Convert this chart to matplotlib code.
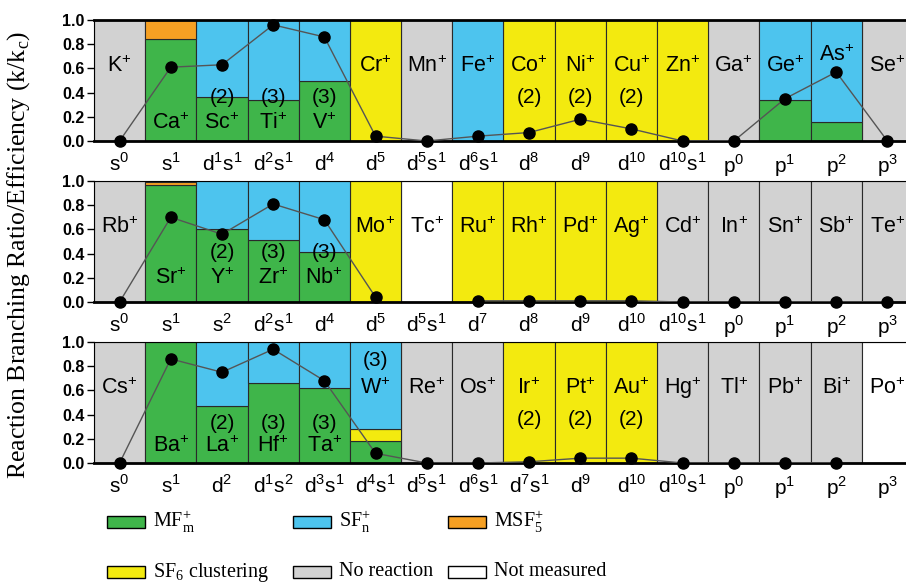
import numpy as np
import matplotlib.pyplot as plt
from matplotlib.patches import Rectangle

plt.rcParams['font.family'] = ['Liberation Sans']
plt.rcParams['mathtext.fontset'] = 'custom'
plt.rcParams['mathtext.rm'] = 'Liberation Sans'
plt.rcParams['mathtext.sf'] = 'Liberation Serif'

# product channel colours
c_mf = '#3fb54a'
c_sf = '#4dc4ee'
c_msf = '#f6a023'
c_clus = '#f3ea0f'
c_none = '#d2d2d2'
c_nm = '#ffffff'

# ---- row 1: K+ .. Se+
ions4 = ['K', 'Ca', 'Sc', 'Ti', 'V', 'Cr', 'Mn', 'Fe', 'Co', 'Ni', 'Cu', 'Zn', 'Ga', 'Ge', 'As', 'Se']
conf4 = ['s$^0$', 's$^1$', 'd$^1$s$^1$', 'd$^2$s$^1$', 'd$^4$', 'd$^5$', 'd$^5$s$^1$', 'd$^6$s$^1$',
         'd$^8$', 'd$^9$', 'd$^{10}$', 'd$^{10}$s$^1$', 'p$^0$', 'p$^1$', 'p$^2$', 'p$^3$']
mf4 = [0, 0.84, 0.36, 0.34, 0.50, 0, 0, 0, 0, 0, 0, 0, 0, 0.34, 0.16, 0]
clus4 = [0, 0, 0, 0, 0, 1.0, 0, 0, 1.0, 1.0, 1.0, 1.0, 0, 0, 0, 0]
sf4 = [0, 0, 0.64, 0.66, 0.50, 0, 0, 1.0, 0, 0, 0, 0, 0, 0.66, 0.84, 0]
msf4 = [0, 0.16, 0, 0, 0, 0, 0, 0, 0, 0, 0, 0, 0, 0, 0, 0]
eff4 = [0.0, 0.61, 0.63, 0.96, 0.86, 0.04, 0.0, 0.04, 0.07, 0.18, 0.10, 0.0, 0.0, 0.35, 0.57, 0.0]
note4 = ['', '', '(2)', '(3)', '(3)', '', '', '', '(2)', '(2)', '(2)', '', '', '', '', '']

# ---- row 2: Rb+ .. Te+
ions5 = ['Rb', 'Sr', 'Y', 'Zr', 'Nb', 'Mo', 'Tc', 'Ru', 'Rh', 'Pd', 'Ag', 'Cd', 'In', 'Sn', 'Sb', 'Te']
conf5 = ['s$^0$', 's$^1$', 's$^2$', 'd$^2$s$^1$', 'd$^4$', 'd$^5$', 'd$^5$s$^1$', 'd$^7$',
         'd$^8$', 'd$^9$', 'd$^{10}$', 'd$^{10}$s$^1$', 'p$^0$', 'p$^1$', 'p$^2$', 'p$^3$']
mf5 = [0, 0.97, 0.60, 0.51, 0.41, 0, 0, 0, 0, 0, 0, 0, 0, 0, 0, 0]
clus5 = [0, 0, 0, 0, 0, 1.0, 0, 1.0, 1.0, 1.0, 1.0, 0, 0, 0, 0, 0]
sf5 = [0, 0, 0.40, 0.49, 0.59, 0, 0, 0, 0, 0, 0, 0, 0, 0, 0, 0]
msf5 = [0, 0.02, 0, 0, 0, 0, 0, 0, 0, 0, 0, 0, 0, 0, 0, 0]
eff5 = [0.0, 0.70, 0.56, 0.81, 0.68, 0.04, None, 0.01, 0.01, 0.01, 0.01, 0.0, 0.0, 0.0, 0.0, 0.0]
note5 = ['', '', '(2)', '(3)', '(3)', '', '', '', '', '', '', '', '', '', '', '']

# ---- row 3: Cs+ .. Po+
ions6 = ['Cs', 'Ba', 'La', 'Hf', 'Ta', 'W', 'Re', 'Os', 'Ir', 'Pt', 'Au', 'Hg', 'Tl', 'Pb', 'Bi', 'Po']
conf6 = ['s$^0$', 's$^1$', 'd$^2$', 'd$^1$s$^2$', 'd$^3$s$^1$', 'd$^4$s$^1$', 'd$^5$s$^1$', 'd$^6$s$^1$',
         'd$^7$s$^1$', 'd$^9$', 'd$^{10}$', 'd$^{10}$s$^1$', 'p$^0$', 'p$^1$', 'p$^2$', 'p$^3$']
mf6 = [0, 1.0, 0.47, 0.66, 0.62, 0.18, 0, 0, 0, 0, 0, 0, 0, 0, 0, 0]
clus6 = [0, 0, 0, 0, 0, 0.10, 0, 0, 1.0, 1.0, 1.0, 0, 0, 0, 0, 0]
sf6 = [0, 0, 0.53, 0.34, 0.38, 0.72, 0, 0, 0, 0, 0, 0, 0, 0, 0, 0]
msf6 = [0] * 16
eff6 = [0.0, 0.86, 0.75, 0.94, 0.68, 0.08, 0.0, 0.0, 0.01, 0.04, 0.04, 0.0, 0.0, 0.0, 0.0, None]
note6 = ['', '', '(2)', '(3)', '(3)', '(3)', '', '', '(2)', '(2)', '(2)', '', '', '', '', '']

rows = [
    (ions4, conf4, mf4, clus4, sf4, msf4, eff4, note4),
    (ions5, conf5, mf5, clus5, sf5, msf5, eff5, note5),
    (ions6, conf6, mf6, clus6, sf6, msf6, eff6, note6),
]

# ions whose name sits low inside the stacked bar
low_names = {'Ca', 'Sc', 'Ti', 'V', 'Sr', 'Y', 'Zr', 'Nb', 'Ba', 'La', 'Hf', 'Ta'}
low_y = [(0.15, 0.36), (0.20, 0.41), (0.14, 0.33)]
name_y = {'As': 0.71}
note_y = {'W': 0.85}

fig = plt.figure(figsize=(9.06, 5.88), dpi=100)
panel_tops = [20, 181, 342]
edge = '#2a2a2a'

for r, (ions, conf, mf, clus, sf, msf, eff, note) in enumerate(rows):
    top = panel_tops[r]
    ax = fig.add_axes([94 / 906, 1 - (top + 121) / 588, 819 / 906, 121 / 588])
    x = np.arange(len(ions))
    mf = np.array(mf, dtype=float)
    clus = np.array(clus, dtype=float)
    sf = np.array(sf, dtype=float)
    msf = np.array(msf, dtype=float)
    measured = np.array([e is not None for e in eff])
    total = mf + clus + sf + msf

    # columns with no products: grey when measured, white when not
    empty = total == 0
    bg = np.where(measured, c_none, c_nm)
    ax.bar(x[empty], 1.0, width=1.0, color=bg[empty], edgecolor=edge, lw=0.8, zorder=1)

    bottom = np.zeros(len(ions))
    for vals, col in [(mf, c_mf), (clus, c_clus), (sf, c_sf), (msf, c_msf)]:
        m = vals > 0
        ax.bar(x[m], vals[m], bottom=bottom[m], width=1.0, color=col,
               edgecolor=edge, lw=0.8, zorder=1)
        bottom += vals

    # efficiency line, broken where the ion was not measured
    ev = np.array([np.nan if e is None else e for e in eff])
    ax.plot(x, ev, color='#555555', lw=1.0, zorder=3)
    ax.plot(x, ev, 'o', color='black', ms=8, zorder=4, clip_on=False)

    lo_name, lo_note = low_y[r]
    for i, ion in enumerate(ions):
        if ion in low_names:
            ny, ty = lo_name, lo_note
        else:
            ny, ty = name_y.get(ion, 0.62), note_y.get(ion, 0.36)
        ax.text(i, ny, ion + '$^{+}$', ha='center', va='center', fontsize=15.5, zorder=5)
        if note[i]:
            ax.text(i, ty, note[i], ha='center', va='center', fontsize=15, zorder=5)

    ax.set_xlim(-0.5, 15.5)
    ax.set_ylim(0, 1.0)
    ax.set_xticks(x)
    ax.set_xticklabels(conf, fontsize=15)
    ax.tick_params(axis='x', length=0, pad=8)
    ax.set_yticks(np.arange(0, 1.01, 0.2))
    ax.set_yticklabels(['%.1f' % v for v in np.arange(0, 1.01, 0.2)],
                       fontsize=11.5, fontweight='bold')
    ax.tick_params(axis='y', direction='out', length=5, width=1, pad=2)
    ax.spines['bottom'].set_linewidth(2.0)
    ax.spines['top'].set_linewidth(2.0 if r == 0 else 0.8)
    ax.spines['left'].set_linewidth(0.8)
    ax.spines['right'].set_visible(False)

fig.text(0.021, 0.566, 'Reaction Branching Ratio/Efficiency (k/k$_\\mathsf{c}$)',
         rotation=90, ha='center', va='center', family='Liberation Serif', fontsize=18.5)

# legend drawn in figure coordinates
legend_items = [
    (c_mf, 'MF$_\\mathsf{m}^\\mathsf{+}$', 0, 0),
    (c_sf, 'SF$_\\mathsf{n}^\\mathsf{+}$', 1, 0),
    (c_msf, 'MSF$_\\mathsf{5}^\\mathsf{+}$', 2, 0),
    (c_clus, 'SF$_\\mathsf{6}$ clustering', 0, 1),
    (c_none, 'No reaction', 1, 1),
    (c_nm, 'Not measured', 2, 1),
]
col_x = [107, 293, 448]
row_y = [522, 572]
for col, label, ci, ri in legend_items:
    px, py = col_x[ci], row_y[ri]
    fig.add_artist(Rectangle((px / 906, 1 - (py + 6) / 588), 38 / 906, 12 / 588,
                             facecolor=col, edgecolor='black', lw=1.0,
                             transform=fig.transFigure))
    fig.text((px + 46) / 906, 1 - py / 588, label, ha='left', va='center',
             family='Liberation Serif', fontsize=14.5)

fig.savefig('out.png', dpi=100)
